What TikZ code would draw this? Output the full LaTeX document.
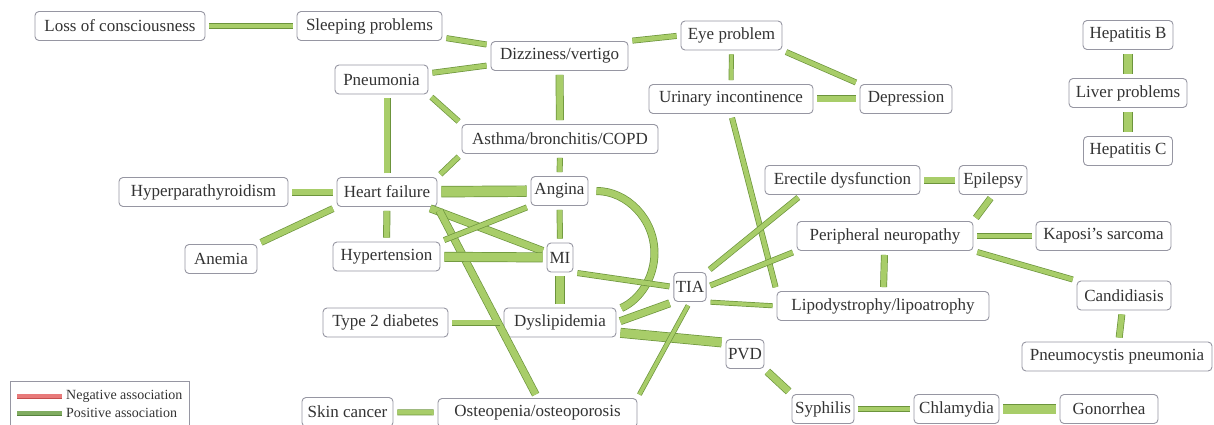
\documentclass[tikz,border=0pt]{standalone}
\usepackage{fontspec}
\setmainfont{Liberation Serif}
\usetikzlibrary{calc}

\definecolor{barfill}{RGB}{168,205,105}
\definecolor{barline}{RGB}{108,148,60}
\definecolor{boxline}{RGB}{150,150,162}
\definecolor{negfill}{RGB}{232,122,122}
\definecolor{negline}{RGB}{196,78,78}
\definecolor{posfill}{RGB}{128,172,96}
\definecolor{posline}{RGB}{86,130,62}

\begin{document}
\begin{tikzpicture}[x=1pt, y=-1pt,
	box/.style={draw=boxline, line width=0.9pt, fill=white, rounded corners=4pt,
		minimum height=29pt, inner xsep=2pt, text=black!80,
		font=\fontsize{17}{20}\selectfont, minimum width=#1},
	assoc/.style={draw=barline, line width=0.7pt, double=barfill, double distance=#1,
		shorten <=4pt, shorten >=4pt},
	legtext/.style={anchor=west, inner sep=0pt, text=black!80, font=\fontsize{14}{16}\selectfont},
	legbar/.style={line width=0.7pt, double distance=3.6pt}]
	\useasboundingbox (0,0) rectangle (1214,425);

	\node [box=170] (LC) at (120,26) {Loss of consciousness};
	\node [box=145] (SP) at (369.5,26) {Sleeping problems};
	\node [box=137] (DV) at (559.5,56) {Dizziness/vertigo};
	\node [box=101] (EY) at (731.5,35.5) {Eye problem};
	\node [box=93] (PM) at (381.5,79.5) {Pneumonia};
	\node [box=164] (UI) at (731,99) {Urinary incontinence};
	\node [box=92] (DE) at (906,99) {Depression};
	\node [box=196] (AB) at (560,139) {Asthma/bronchitis/COPD};
	\node [box=90] (HB) at (1128,35) {Hepatitis B};
	\node [box=118] (LP) at (1128,93) {Liver problems};
	\node [box=89] (HC) at (1128,151) {Hepatitis C};
	\node [box=169] (HP) at (203.5,192) {Hyperparathyroidism};
	\node [box=100] (HF) at (387,192) {Heart failure};
	\node [box=57] (AN) at (559.5,191) {Angina};
	\node [box=155] (ED) at (842.5,180) {Erectile dysfunction};
	\node [box=68] (EL) at (993,180) {Epilepsy};
	\node [box=72] (AE) at (221,259) {Anemia};
	\node [box=107] (HT) at (386.5,256.5) {Hypertension};
	\node [box=26] (MI) at (560,257.5) {MI};
	\node [box=176] (PR) at (885,236) {Peripheral neuropathy};
	\node [box=135] (KS) at (1103.5,236) {Kaposi's sarcoma};
	\node [box=32] (TIA) at (690,287) {TIA};
	\node [box=212] (LD) at (883,306) {Lipodystrophy/lipoatrophy};
	\node [box=94] (CA) at (1124,295.5) {Candidiasis};
	\node [box=125] (TD) at (385.5,322.5) {Type 2 diabetes};
	\node [box=112] (DL) at (560,322.5) {Dyslipidemia};
	\node [box=36] (PVD) at (745,354) {PVD};
	\node [box=190] (PCP) at (1117,356.5) {Pneumocystis pneumonia};
	\node [box=91] (SC) at (347.5,412) {Skin cancer};
	\node [box=199] (OS) at (537.5,413) {Osteopenia/osteoporosis};
	\node [box=62] (SY) at (823,409) {Syphilis};
	\node [box=85] (CH) at (956.5,409) {Chlamydia};
	\node [box=98] (GO) at (1109,409) {Gonorrhea};

	% associations
	\draw [assoc=4.6pt] (LC) -- (SP);
	\draw [assoc=4.6pt] (SP) -- (DV);
	\draw [assoc=4.6pt] (DV.north east) -- (EY.west);
	\draw [assoc=4.6pt] (PM) -- (DV);
	\draw [assoc=6.6pt] (DV) -- (AB);
	\draw [assoc=4.6pt] (PM.south east) -- (AB.north west);
	\draw [assoc=5.6pt] (HF) -- (HF |- PM.south);
	\draw [assoc=4.6pt] (AB.south west) -- (HF.north east);
	\draw [assoc=4.6pt] (AB) -- (AN);
	\draw [assoc=3.6pt] (EY) -- (UI);
	\draw [assoc=4.6pt] (EY.south east) -- (DE.north west);
	\draw [assoc=5.6pt] (UI) -- (DE);
	\draw [assoc=4.6pt] (UI.south) -- (LD.north west);
	\draw [assoc=8pt] (HB) -- (LP);
	\draw [assoc=8pt] (LP) -- (HC);
	\draw [assoc=5.6pt] (HP) -- (HF);
	\draw [assoc=10pt] (HF) -- (AN);
	\draw [assoc=5.6pt] (HF.south west) -- (AE.north east);
	\draw [assoc=5.6pt] (HF) -- (HT);
	\draw [assoc=6.6pt] (HF) -- (MI);
	\draw [assoc=6.6pt] (HF.south east) -- (OS.north);
	\draw [assoc=4.6pt] (AN.south west) -- (HT.north east);
	\draw [assoc=4.6pt] (AN) -- (MI);
	\draw [assoc=6.6pt] ([xshift=4pt]AN.east) arc [start angle=90, end angle=-66, radius=62pt];
	\draw [assoc=8.6pt] (HT) -- (MI);
	\draw [assoc=8.6pt] (MI) -- (DL);
	\draw [assoc=4.6pt] (MI.south east) -- (TIA.west);
	\draw [assoc=4.6pt] (TD) -- (DL);
	\draw [assoc=6.6pt] (DL.east) -- (TIA.south west);
	\draw [assoc=8.6pt] (DL.-10) -- (PVD.150);
	\draw [assoc=4.6pt] (TIA.north east) -- (ED.200);
	\draw [assoc=4.6pt] (TIA.east) -- (PR.south west);
	\draw [assoc=3.6pt] (TIA.south east) -- (LD.west);
	\draw [assoc=3.6pt] (TIA.south) -- (OS.north east);
	\draw [assoc=5.6pt] (ED) -- (EL);
	\draw [assoc=5.6pt] (EL.south) -- (PR.north east);
	\draw [assoc=4.2pt] (PR) -- (KS);
	\draw [assoc=5.6pt] (PR) -- (LD);
	\draw [assoc=4.6pt] (PR.south east) -- (CA.north west);
	\draw [assoc=5.6pt] (CA) -- (PCP);
	\draw [assoc=6.6pt] (PVD.south east) -- (SY.north west);
	\draw [assoc=4.6pt] (SY) -- (CH);
	\draw [assoc=9pt] (CH) -- (GO);
	\draw [assoc=4.6pt] (SC) -- (OS);

	% legend
	\draw [draw=boxline, line width=0.9pt] (10,381) rectangle (189,432);
	\node [legtext] (NEG) at (66,396) {Negative association};
	\node [legtext] (POS) at (66,413) {Positive association};
	\coordinate (negstart) at (17,396);
	\coordinate (posstart) at (17,413);
	\draw [legbar, draw=negline, double=negfill, shorten >=4pt] (negstart) -- (NEG.west);
	\draw [legbar, draw=posline, double=posfill, shorten >=4pt] (posstart) -- (POS.west);
\end{tikzpicture}
\end{document}
